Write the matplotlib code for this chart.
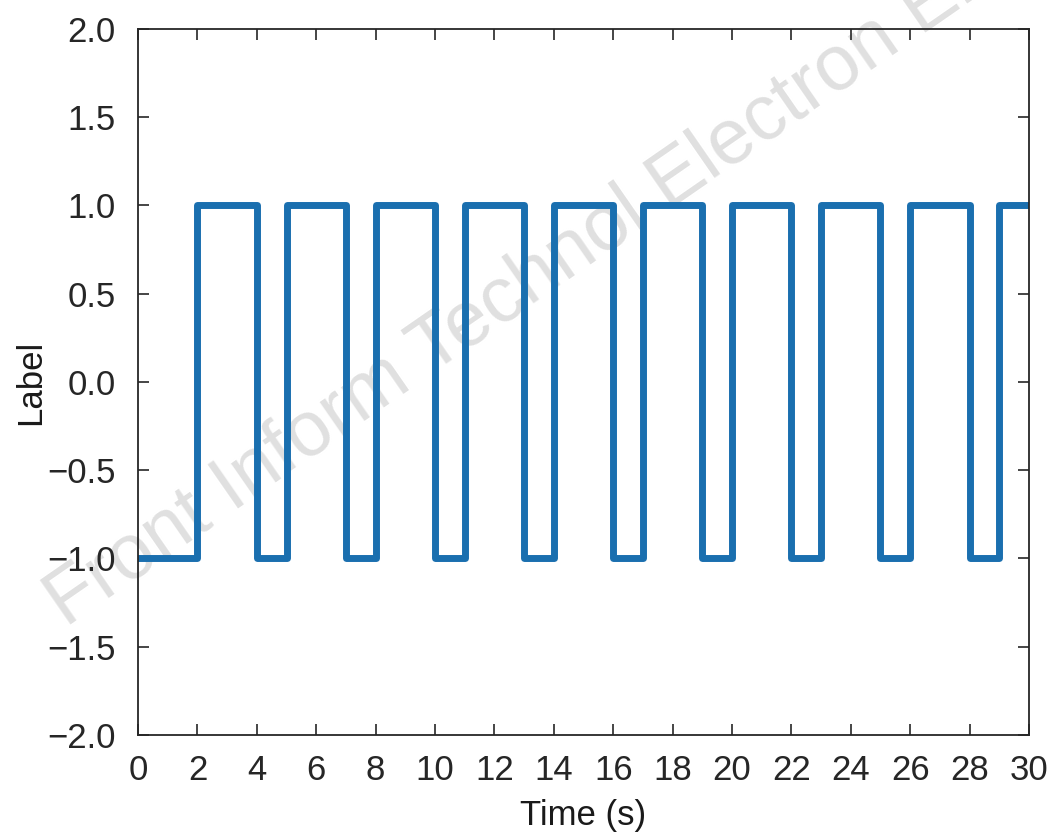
import numpy as np
import matplotlib
matplotlib.use('Agg')
import matplotlib.pyplot as plt
import matplotlib.ticker as ticker

plt.rcParams['font.family'] = ['Liberation Sans', 'DejaVu Sans']

# switching times (s) and label level held from each time onwards
Time_Edges = [0, 2, 4, 5, 7, 8, 10, 11, 13, 14, 16, 17, 19, 20, 22, 23, 25, 26, 28, 29, 30]
Label_Vals = [-1, 1, -1, 1, -1, 1, -1, 1, -1, 1, -1, 1, -1, 1, -1, 1, -1, 1, -1, 1, 1]

XTicks = np.arange(0, 31, 2)
YTicks = np.arange(-2.0, 2.01, 0.5)


def minus_fmt(v, pos):
    s = '%.1f' % v
    return s.replace('-', '\u2212')


fig = plt.figure(figsize=(10.57, 8.35), dpi=100)
ax = fig.add_axes([0.1306, 0.1198, 0.8429, 0.8455])

ax.step(Time_Edges, Label_Vals, where='post', color='#1a6faf', linewidth=5, zorder=2)

ax.set_xlim(0, 30)
ax.set_ylim(-2, 2)
ax.set_xticks(XTicks)
ax.set_yticks(YTicks)
ax.yaxis.set_major_formatter(ticker.FuncFormatter(minus_fmt))
ax.tick_params(direction='in', length=8, width=1.2, top=True, right=True,
               labelsize=25, colors='#262626')
ax.tick_params(axis='y', pad=16)
ax.tick_params(axis='x', pad=14)
for sp in ax.spines.values():
    sp.set_linewidth(1.3)
    sp.set_color('#262626')

ax.set_xlabel('Time (s)', fontsize=25, color='#1a1a1a', labelpad=8)
ax.set_ylabel('Label', fontsize=25, color='#1a1a1a', labelpad=0)

# watermark behind the curve
ax.text(0.0625, 0.248, 'Front Inform Technol Electron Eng', transform=fig.transFigure,
        fontsize=56, color='#e0e0e0', rotation=34.7, rotation_mode='anchor',
        ha='left', va='baseline', clip_on=False, zorder=0.5)

fig.savefig('out.png', dpi=100)
